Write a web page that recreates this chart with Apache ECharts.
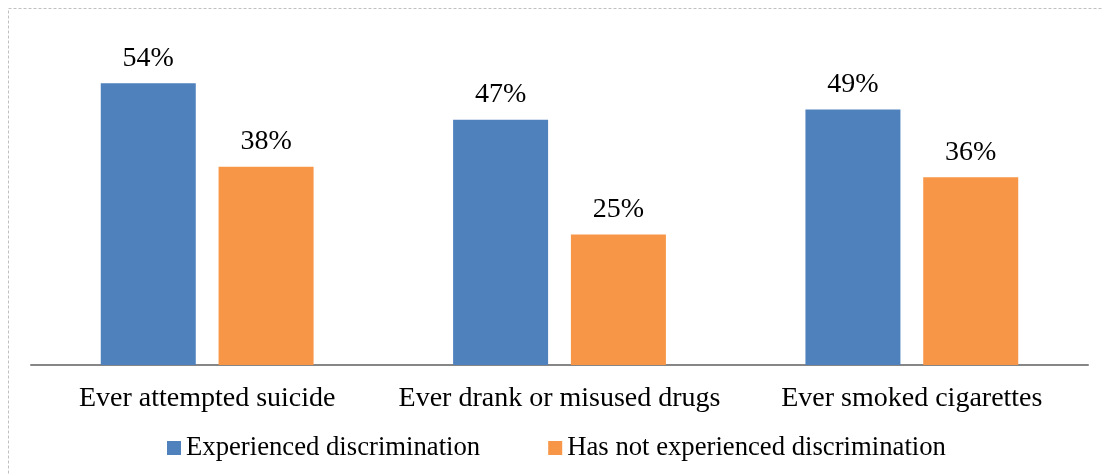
<!DOCTYPE html>
<html>
<head>
<meta charset="utf-8">
<script src="https://cdn.jsdelivr.net/npm/echarts@6/dist/echarts.min.js"></script>
<style>
  html, body { margin: 0; padding: 0; background: #fff; }
  #chart { width: 1102px; height: 475px; }
</style>
</head>
<body>
<div id="chart"></div>
<script>
const categories = ['Ever attempted suicide', 'Ever drank or misused drugs', 'Ever smoked cigarettes'];
const seriesNames = ['Experienced discrimination', 'Has not experienced discrimination'];
const experienced = [54, 47, 49];
const notExperienced = [38, 25, 36];

const FONT = '"Liberation Serif", "Times New Roman", serif';
const chart = echarts.init(document.getElementById('chart'), null, { renderer: 'canvas' });

const labelStyle = {
  show: true,
  position: 'top',
  distance: 11,
  formatter: p => p.value + '%',
  fontFamily: FONT,
  fontSize: 28,
  lineHeight: 28,
  color: '#000'
};

chart.setOption({
  animation: false,
  backgroundColor: '#fff',
  graphic: [{
    type: 'rect',
    shape: { x: 8.5, y: 8.5, width: 1200, height: 600 },
    style: { fill: 'none', stroke: '#c0c0c0', lineWidth: 1, lineDash: [3, 2] },
    silent: true
  }],
  grid: { left: 31, right: 14, top: 52, bottom: 110 },
  legend: {
    data: seriesNames,
    top: 429,
    left: 162,
    itemWidth: 14,
    itemHeight: 14,
    itemGap: 68,
    icon: 'rect',
    textStyle: { fontFamily: FONT, fontSize: 26.7, lineHeight: 28, color: '#000' }
  },
  xAxis: {
    type: 'category',
    data: categories,
    axisLine: { show: true, lineStyle: { color: '#868686', width: 2 } },
    axisTick: { show: false },
    axisLabel: { fontFamily: FONT, fontSize: 28, lineHeight: 28, color: '#000', margin: 20, interval: 0 }
  },
  yAxis: {
    type: 'value',
    min: 0,
    max: 60,
    show: false,
    splitLine: { show: false }
  },
  series: [
    {
      name: seriesNames[0],
      type: 'bar',
      data: experienced,
      barWidth: 95,
      barGap: '24%',
      itemStyle: { color: '#4F81BD' },
      label: labelStyle
    },
    {
      name: seriesNames[1],
      type: 'bar',
      data: notExperienced,
      barWidth: 95,
      itemStyle: { color: '#F79646' },
      label: labelStyle
    }
  ]
});
</script>
</body>
</html>
